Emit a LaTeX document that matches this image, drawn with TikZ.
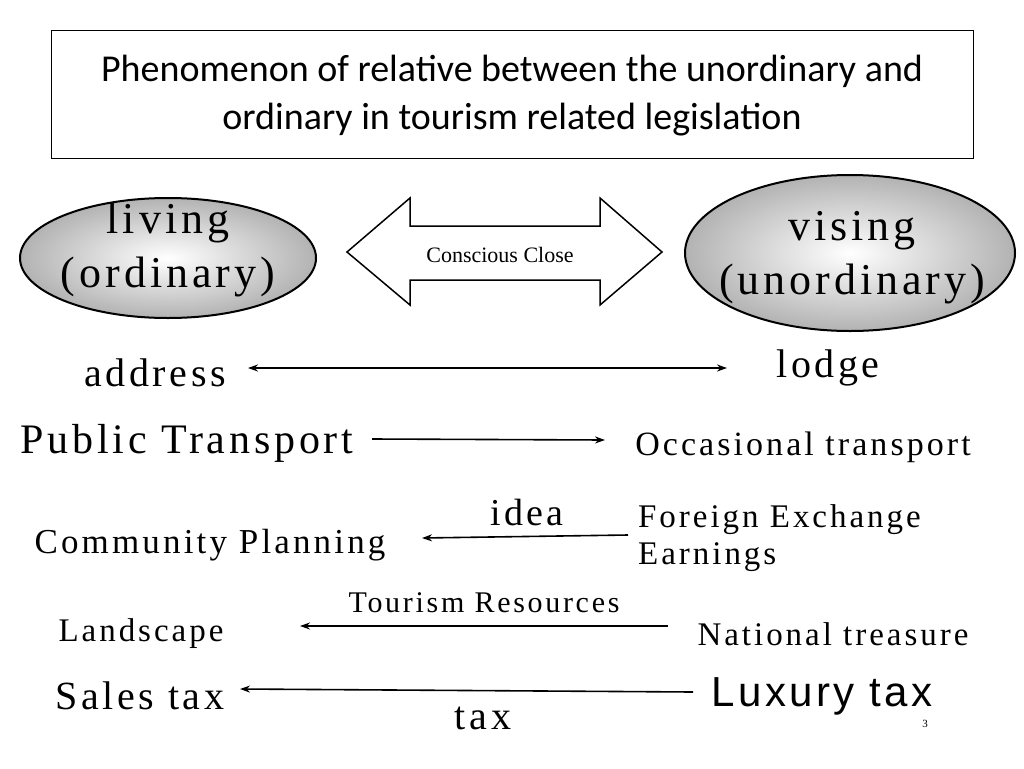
\documentclass[tikz,border=0pt]{standalone}
\usepackage{fontspec}
\setmainfont[LetterSpace=9]{Liberation Serif}
\newfontfamily\calib{Carlito}
\newfontfamily\arialf[LetterSpace=8]{Liberation Sans}
\usetikzlibrary{arrows.meta}
\begin{document}
\begin{tikzpicture}[x=1pt,y=-1pt,
  conn/.style={line width=1.6pt,-{Stealth[length=10pt,width=7pt]}},
  ell/.style={draw,line width=2pt,inner color=white,outer color=gray!60},
  lbl/.style={inner sep=0pt,anchor=center}]
\useasboundingbox (0,0) rectangle (1024,768);
\node[draw,minimum width=922pt,minimum height=128pt,anchor=north west] (title) at (51,30) {};
\node[lbl,align=center,font=\calib\fontsize{38}{48}\selectfont] (tt) at (512,96) {Phenomenon of relative between the unordinary and\\ordinary in tourism related legislation};
\shade[ell] (168,258) ellipse [x radius=148, y radius=60];
\shade[ell] (850,253) ellipse [x radius=165, y radius=78];
\node[lbl,align=center,font=\fontsize{44}{54}\selectfont] (liv) at (168,250) {living\\(ordinary)};
\node[lbl,align=center,font=\fontsize{44}{54}\selectfont] (vis) at (852,258) {vising\\(unordinary)};
\draw[line width=1.5pt] (347,252) -- (410,198) -- (410,226) -- (600,226) -- (600,198) -- (662,252) -- (600,305) -- (600,280) -- (410,280) -- (410,305) -- cycle;
\node[lbl,font=\fontsize{22}{24}\selectfont\addfontfeature{LetterSpace=0}] (cc) at (500,255) {Conscious Close};
\node[lbl,font=\fontsize{40}{40}\selectfont] (addr) at (155,373) {address};
\node[lbl,font=\fontsize{40}{40}\selectfont] (lodge) at (828,368) {lodge};
\coordinate (a1) at (248,368); \coordinate (a2) at (727,368);
\draw[line width=1.6pt,{Stealth[length=10pt,width=7pt]}-{Stealth[length=10pt,width=7pt]}] (a1) -- (a2);
\node[lbl,font=\fontsize{42}{40}\selectfont] (pt) at (187,443) {Public Transport};
\node[lbl,font=\fontsize{34}{32}\selectfont] (ot) at (803,447) {Occasional transport};
\coordinate (b1) at (372,439); \coordinate (b2) at (605,440);
\draw[conn] (b1) -- (b2);
\node[lbl,font=\fontsize{38}{40}\selectfont] (idea) at (527,512) {idea};
\node[lbl,font=\fontsize{35}{32}\selectfont] (cp) at (210,545) {Community Planning};
\node[lbl,align=left,anchor=west,font=\fontsize{33}{37}\selectfont] (fe) at (638,538) {Foreign Exchange\\Earnings};
\coordinate (c1) at (628,535); \coordinate (c2) at (422,538);
\draw[conn] (c1) -- (c2);
\node[lbl,font=\fontsize{30}{30}\selectfont] (tr) at (484,603) {Tourism Resources};
\node[lbl,font=\fontsize{33}{32}\selectfont] (ls) at (141,634) {Landscape};
\node[lbl,font=\fontsize{33}{32}\selectfont] (nt) at (833,634) {National treasure};
\coordinate (d1) at (668,626); \coordinate (d2) at (300,626);
\draw[conn] (d1) -- (d2);
\node[lbl,font=\fontsize{40}{40}\selectfont] (st) at (140,696) {Sales tax};
\node[lbl,font=\arialf\fontsize{42}{40}\selectfont] (lt) at (822,696) {Luxury tax};
\node[lbl,font=\fontsize{40}{40}\selectfont] (tax) at (483,718) {tax};
\node[lbl,font=\fontsize{11}{12}\selectfont] (pg) at (925,724) {3};
\coordinate (e1) at (693,692); \coordinate (e2) at (240,689);
\draw[conn] (e1) -- (e2);
\end{tikzpicture}
\end{document}
